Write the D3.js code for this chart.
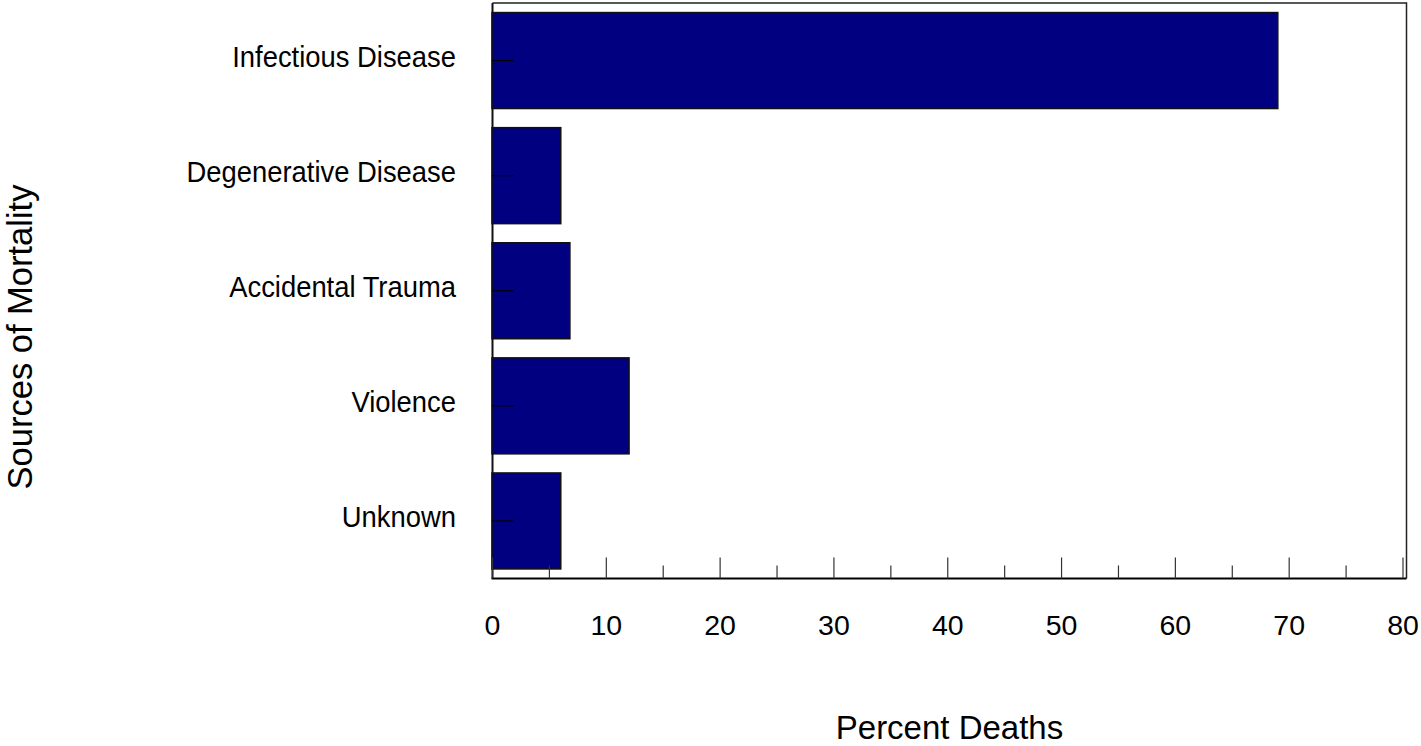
<!DOCTYPE html>
<html>
<head>
<meta charset="utf-8">
<script src="https://cdn.jsdelivr.net/npm/d3@7"></script>
<style>
  html, body { margin: 0; padding: 0; background: #fff; }
  svg { display: block; font-family: "Liberation Sans", Arial, sans-serif; }
</style>
</head>
<body>
<svg id="chart" width="1421" height="746"></svg>
<script>
// Sources of mortality, percent of deaths
const categories = ["Infectious Disease", "Degenerative Disease", "Accidental Trauma", "Violence", "Unknown"];
const percentDeaths = [69, 6, 6.8, 12, 6];
const majorTicks = [0, 10, 20, 30, 40, 50, 60, 70, 80];
const minorTicks = [5, 15, 25, 35, 45, 55, 65, 75];

const svg = d3.select("#chart");
const frame = { left: 492.5, right: 1406.5, top: 3, bottom: 578.5 };

const x = d3.scaleLinear().domain([0, 80]).range([frame.left, 1403]);
const y = d3.scaleBand()
  .domain(categories)
  .range([frame.top, frame.bottom])
  .paddingInner(0.166)
  .paddingOuter(0.083);

// plot frame: top and right edges
svg.append("path")
  .attr("d", `M${frame.left},${frame.top}H${frame.right}V${frame.bottom}`)
  .attr("fill", "none")
  .attr("stroke", "#222")
  .attr("stroke-width", 1.5);

// left edge
svg.append("line")
  .attr("x1", frame.left).attr("x2", frame.left)
  .attr("y1", frame.top).attr("y2", frame.bottom)
  .attr("stroke", "#111").attr("stroke-width", 2);

// bars
const rows = categories.map((c, i) => ({ c, v: percentDeaths[i] }));
svg.append("g").selectAll("rect")
  .data(rows)
  .join("rect")
  .attr("x", x(0) - 0.5)
  .attr("y", d => y(d.c))
  .attr("width", d => x(d.v) - x(0) + 0.5)
  .attr("height", y.bandwidth())
  .attr("fill", "#000080")
  .attr("stroke", "#111")
  .attr("stroke-width", 1.5);

// category ticks, drawn inside the frame
svg.append("g").selectAll("line")
  .data(categories)
  .join("line")
  .attr("x1", frame.left).attr("x2", frame.left + 21)
  .attr("y1", d => y(d) + y.bandwidth() / 2)
  .attr("y2", d => y(d) + y.bandwidth() / 2)
  .attr("stroke", "#000").attr("stroke-width", 1.2);

// category labels
svg.append("g").selectAll("text")
  .data(categories)
  .join("text")
  .attr("x", 456)
  .attr("y", d => y(d) + y.bandwidth() / 2 + 6)
  .attr("text-anchor", "end")
  .attr("font-size", 27.4)
  .attr("transform", d => {
    const cy = y(d) + y.bandwidth() / 2;
    return `translate(0,${cy}) scale(1,1.07) translate(0,${-cy})`;
  })
  .attr("fill", "#000")
  .text(d => d);

// x axis baseline
svg.append("line")
  .attr("x1", frame.left - 1).attr("x2", frame.right)
  .attr("y1", frame.bottom).attr("y2", frame.bottom)
  .attr("stroke", "#000").attr("stroke-width", 2);

// major and minor ticks pointing up into the plot
svg.append("g").selectAll("line")
  .data(majorTicks)
  .join("line")
  .attr("x1", d => x(d)).attr("x2", d => x(d))
  .attr("y1", frame.bottom).attr("y2", frame.bottom - 21)
  .attr("stroke", "#333").attr("stroke-width", 1.2);

svg.append("g").selectAll("line")
  .data(minorTicks)
  .join("line")
  .attr("x1", d => x(d)).attr("x2", d => x(d))
  .attr("y1", frame.bottom).attr("y2", frame.bottom - 13)
  .attr("stroke", "#333").attr("stroke-width", 1.2);

// tick labels
svg.append("g").selectAll("text")
  .data(majorTicks)
  .join("text")
  .attr("x", d => x(d))
  .attr("y", 635)
  .attr("text-anchor", "middle")
  .attr("font-size", 28.5)
  .attr("fill", "#000")
  .text(d => d);

// axis titles
svg.append("text")
  .attr("x", (frame.left + frame.right) / 2)
  .attr("y", 739)
  .attr("text-anchor", "middle")
  .attr("font-size", 33)
  .attr("fill", "#000")
  .text("Percent Deaths");

svg.append("text")
  .attr("transform", "translate(32,337) rotate(-90)")
  .attr("text-anchor", "middle")
  .attr("font-size", 34.5)
  .attr("fill", "#000")
  .text("Sources of Mortality");
</script>
</body>
</html>
